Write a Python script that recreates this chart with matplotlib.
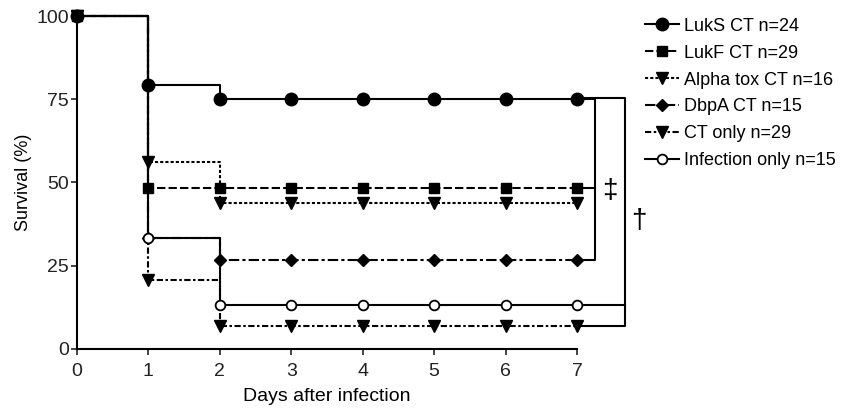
import matplotlib.pyplot as plt
import numpy as np

plt.rcParams['font.family'] = ['Liberation Sans', 'DejaVu Sans']

days = [0, 1, 2, 3, 4, 5, 6, 7]
luks = [100, 79.2, 75, 75, 75, 75, 75, 75]
lukf = [100, 48.3, 48.3, 48.3, 48.3, 48.3, 48.3, 48.3]
alpha = [100, 56.3, 43.8, 43.8, 43.8, 43.8, 43.8, 43.8]
dbpa = [100, 33.3, 26.7, 26.7, 26.7, 26.7, 26.7, 26.7]
ct_only = [100, 20.7, 6.9, 6.9, 6.9, 6.9, 6.9, 6.9]
infection = [100, 33.3, 13.3, 13.3, 13.3, 13.3, 13.3, 13.3]

labels = ["LukS CT n=24", "LukF CT n=29", "Alpha tox CT n=16",
          "DbpA CT n=15", "CT only n=29", "Infection only n=15"]

fig = plt.figure(figsize=(8.46, 4.11), dpi=100)
ax = fig.add_axes([0.091, 0.151, 0.591, 0.810])

lw = 1.5
ax.plot(days, luks, drawstyle='steps-post', color='black', lw=lw,
        marker='o', ms=9, label=labels[0], clip_on=False, zorder=6)
ax.plot(days, lukf, drawstyle='steps-post', color='black', lw=lw,
        dashes=(4, 1.5), marker='s', ms=7, label=labels[1], clip_on=False, zorder=5)
ax.plot(days, alpha, drawstyle='steps-post', color='black', lw=lw,
        dashes=(1.5, 1), marker='v', ms=8, label=labels[2], clip_on=False, zorder=4)
ax.plot(days, dbpa, drawstyle='steps-post', color='black', lw=lw,
        dashes=(5, 1.5, 1.5, 1.5), marker='D', ms=6, label=labels[3], clip_on=False, zorder=3)
ax.plot(days, ct_only, drawstyle='steps-post', color='black', lw=lw,
        dashes=(3, 1.2, 1.2, 1.2), marker='v', ms=8, label=labels[4], clip_on=False, zorder=4)
ax.plot(days, infection, drawstyle='steps-post', color='black', lw=lw,
        marker='o', ms=7, mfc='white', mew=1.3, label=labels[5], clip_on=False, zorder=5)

# significance brackets
x1, x2 = 7.25, 7.67
ax.plot([7, x1, x1, 7], [luks[-1], luks[-1], dbpa[-1], dbpa[-1]],
        color='black', lw=lw, clip_on=False, zorder=2)
ax.plot([7, x1], [lukf[-1], lukf[-1]], color='black', lw=lw, clip_on=False, zorder=2)
ax.plot([7, x2, x2, 7], [luks[-1] + 0.5, luks[-1] + 0.5, ct_only[-1], ct_only[-1]],
        color='black', lw=lw, clip_on=False, zorder=2)
ax.plot([7, x2], [infection[-1], infection[-1]], color='black', lw=lw, clip_on=False, zorder=2)
ax.text(7.46, 47.5, '\u2021', fontsize=20, ha='center', va='center')
ax.text(7.86, 38.5, '\u2020', fontsize=20, ha='center', va='center')

ax.set_xlim(0, 7)
ax.set_ylim(0, 100)
ax.set_xticks(days)
ax.set_yticks([0, 25, 50, 75, 100])
ax.spines['top'].set_visible(False)
ax.spines['right'].set_visible(False)
ax.spines['left'].set_linewidth(1.5)
ax.spines['bottom'].set_linewidth(1.5)
ax.tick_params(labelsize=14, width=1.2, length=4, colors='#222222')
ax.tick_params(axis='x', pad=6)
ax.tick_params(axis='y', pad=2)
ax.set_xlabel("Days after infection", fontsize=14, labelpad=6)
ax.set_ylabel("Survival (%)", fontsize=13, labelpad=3)

fig.legend(loc='upper left', bbox_to_anchor=(0.762, 0.957), frameon=False,
           fontsize=13, handlelength=1.9, handletextpad=0.3, labelspacing=0.55,
           borderpad=0, borderaxespad=0)

fig.savefig("out.png", dpi=100)
